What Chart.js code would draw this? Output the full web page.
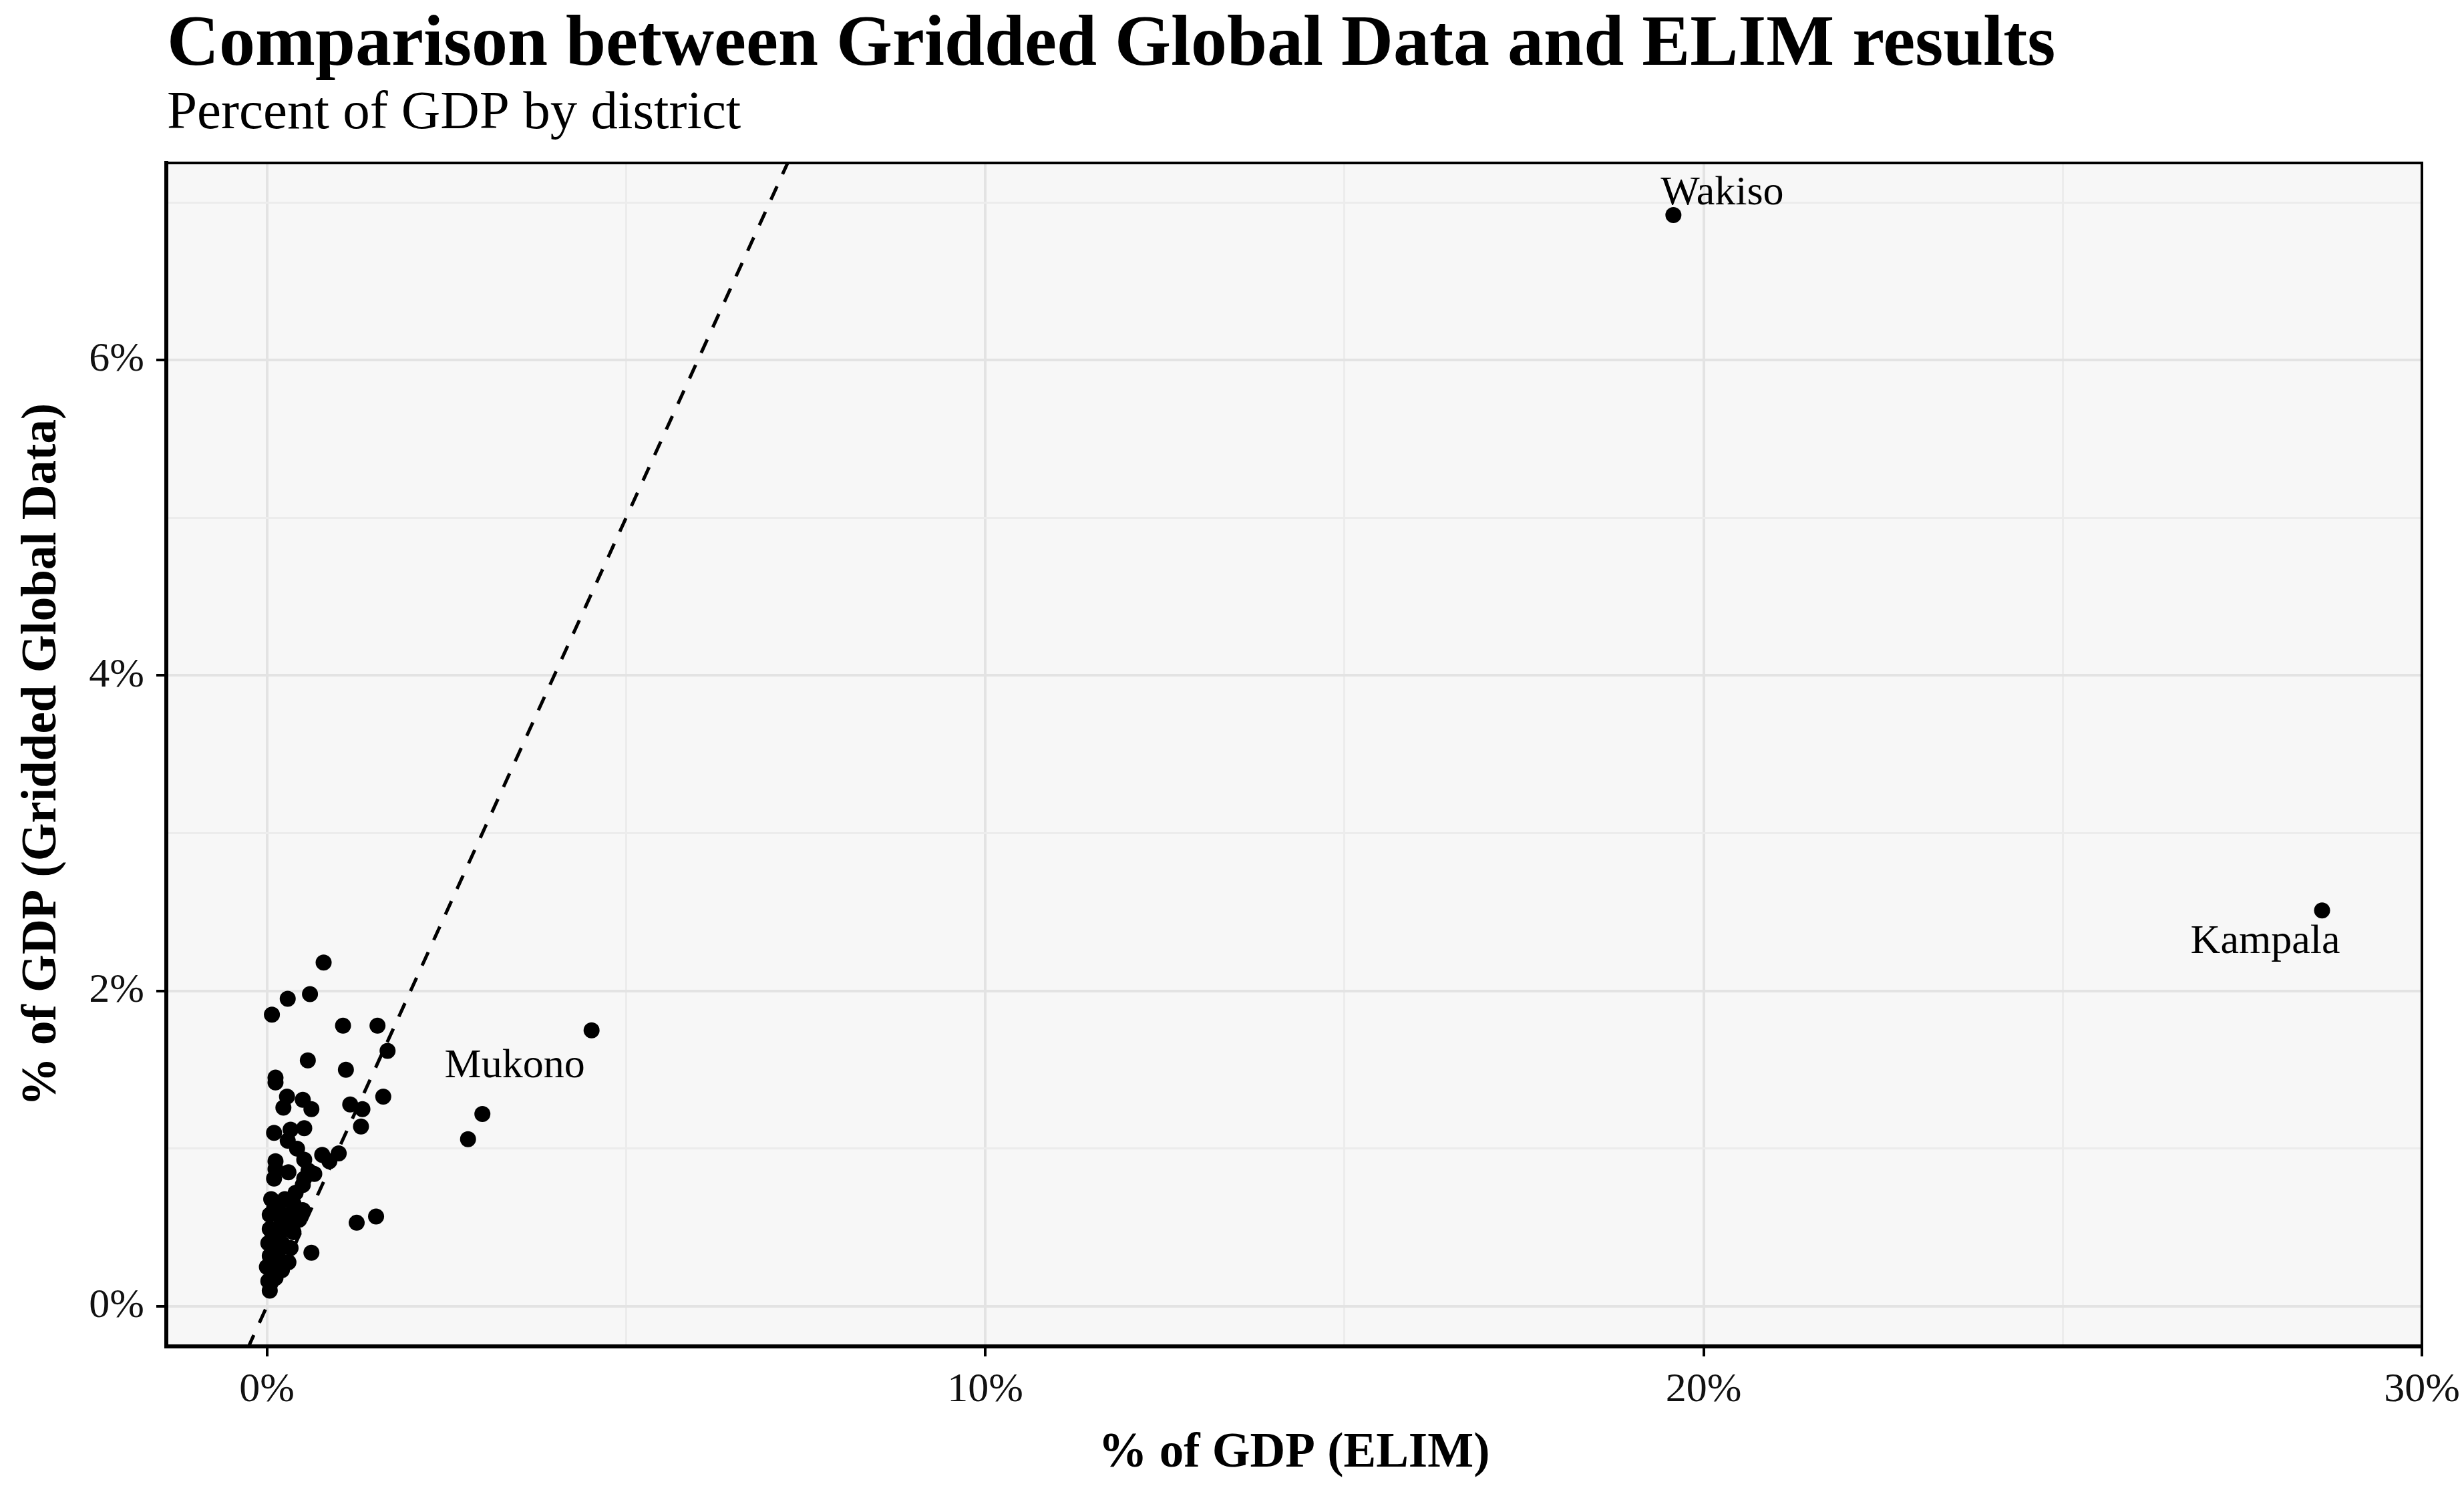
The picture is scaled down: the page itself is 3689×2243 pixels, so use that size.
<!DOCTYPE html>
<html>
<head>
<meta charset="utf-8">
<script src="https://cdn.jsdelivr.net/npm/chart.js@4/dist/chart.umd.min.js"></script>
<style>
  html, body { margin: 0; padding: 0; background: #fff; overflow: hidden; }
  canvas { display: block; }
</style>
</head>
<body>
<canvas id="chart" width="3689" height="2243"></canvas>
<script>
// ---- data (percent of GDP per district) ----
// first three are the labelled districts
const labelledDistricts = ['Wakiso', 'Kampala', 'Mukono'];

const elimPct = [
  19.58, 28.61, 4.52,
  0.79, 0.60, 0.29, 0.07, 1.06, 1.54, 1.68, 0.57, 1.10, 0.12, 0.12,
  0.28, 0.50, 0.23, 0.62, 1.62, 1.16, 1.33, 1.31, 3.00, 2.80,
  0.10, 0.33, 0.52, 0.29, 0.42, 0.77, 1.00, 0.87, 0.52, 0.12,
  0.58, 0.66, 0.12, 0.50, 0.10, 0.52, 1.25, 1.52, 0.62,
  0.06, 0.25, 0.37, 0.50, 0.04, 0.17, 0.33, 0.04, 0.25, 0.37,
  0.02, 0.21, 0.33, 0.04, 0.17, 0.00, 0.21, 0.02, 0.12, 0.04,
  0.10, 0.20, 0.08, 0.28, 0.15, 0.30, 0.08, 0.45, 0.40, 0.30
];

const griddedPct = [
  6.92, 2.51, 1.75,
  2.18, 1.98, 1.95, 1.85, 1.78, 1.78, 1.62, 1.56, 1.50, 1.45, 1.42,
  1.33, 1.31, 1.26, 1.25, 1.33, 1.28, 1.25, 1.14, 1.22, 1.06,
  1.10, 1.12, 1.13, 1.05, 1.00, 0.96, 0.97, 0.92, 0.93, 0.92,
  0.86, 0.84, 0.87, 0.77, 0.81, 0.81, 0.53, 0.57, 0.34,
  0.68, 0.68, 0.65, 0.61, 0.58, 0.60, 0.56, 0.49, 0.49, 0.47,
  0.40, 0.40, 0.37, 0.32, 0.30, 0.25, 0.23, 0.16, 0.18, 0.10,
  0.62, 0.52, 0.44, 0.58, 0.35, 0.28, 0.22, 0.55, 0.72, 0.85
];

const xTicks = [0, 5, 10, 15, 20, 25, 30];
const yTicks = [0, 1, 2, 3, 4, 5, 6, 7];
const xMajor = [0, 10, 20, 30];
const yMajor = [0, 2, 4, 6];

// axis limits (ggplot-style 5% expansion)
const X_MIN = -1.40, X_MAX = 30.0;
const Y_MIN = -0.254, Y_MAX = 7.25;

// ---- styling ----
const SERIF = '"Palatino Linotype", "Book Antiqua", Palatino, "Liberation Serif", serif';
const W = 3689, H = 2243;
const AREA = { left: 249, top: 244, right: 3626, bottom: 2016 };

// label offsets from the point, in pixels (centre x, baseline y)
const labelOffsets = { Wakiso: [73, -16], Kampala: [-85, 64], Mukono: [-115, 70] };

const points = elimPct.map((x, i) => ({ x, y: griddedPct[i] }));
const identity = [{ x: X_MIN, y: X_MIN }, { x: Y_MAX, y: Y_MAX }];

const isMajorX = v => xMajor.includes(v);
const isMajorY = v => yMajor.includes(v);

const panelPlugin = {
  id: 'panel',
  beforeDraw(chart) {
    const { ctx, chartArea: a } = chart;
    ctx.save();
    ctx.fillStyle = '#f7f7f7';
    ctx.fillRect(a.left, a.top, a.right - a.left, a.bottom - a.top);
    ctx.restore();
  },
  afterDraw(chart) {
    const { ctx, chartArea: a } = chart;
    ctx.save();
    // top / right frame
    ctx.strokeStyle = '#000';
    ctx.lineWidth = 4;
    ctx.beginPath();
    ctx.moveTo(a.left, a.top);
    ctx.lineTo(a.right, a.top);
    ctx.lineTo(a.right, a.bottom);
    ctx.stroke();

    // point labels
    const meta = chart.getDatasetMeta(0);
    ctx.fillStyle = '#000';
    ctx.font = '62px ' + SERIF;
    ctx.textAlign = 'center';
    ctx.textBaseline = 'alphabetic';
    labelledDistricts.forEach((name, i) => {
      const el = meta.data[i];
      const off = labelOffsets[name];
      ctx.fillText(name, el.x + off[0], el.y + off[1]);
    });

    // title + subtitle
    ctx.textAlign = 'left';
    ctx.font = 'bold 108px ' + SERIF;
    ctx.fillText('Comparison between Gridded Global Data and ELIM results', 250, 97);
    ctx.font = '81px ' + SERIF;
    ctx.fillText('Percent of GDP by district', 250, 192);
    ctx.restore();
  }
};

new Chart(document.getElementById('chart'), {
  type: 'scatter',
  data: {
    datasets: [
      {
        data: points,
        backgroundColor: '#000',
        borderWidth: 0,
        pointRadius: 12,
        pointHoverRadius: 12,
      },
      {
        type: 'line',
        data: identity,
        borderColor: '#000',
        borderWidth: 5,
        borderDash: [22, 20],
        pointRadius: 0,
        fill: false,
        clip: 0,
      },
    ],
  },
  options: {
    responsive: false,
    animation: false,
    devicePixelRatio: 1,
    layout: { padding: { top: AREA.top, right: W - AREA.right, bottom: 0, left: 0 } },
    plugins: {
      legend: { display: false },
      tooltip: { enabled: false },
    },
    scales: {
      x: {
        type: 'linear',
        min: X_MIN,
        max: X_MAX,
        afterBuildTicks: s => { s.ticks = xTicks.map(v => ({ value: v })); },
        afterFit: s => {
          s.height = H - AREA.bottom;
          s.paddingLeft = 0;
          s.paddingRight = 0;
        },
        ticks: {
          autoSkip: false,
          maxRotation: 0,
          padding: 14,
          color: '#111',
          font: { family: SERIF, size: 62 },
          callback: v => isMajorX(v) ? v + '%' : '',
        },
        grid: {
          color: c => isMajorX(c.tick.value) ? '#e3e3e3' : '#ececec',
          lineWidth: c => isMajorX(c.tick.value) ? 4 : 3,
          tickLength: 15,
          tickWidth: 4,
          tickColor: c => isMajorX(c.tick.value) ? '#000' : 'rgba(0,0,0,0)',
        },
        border: { color: '#000', width: 6 },
        title: {
          display: true,
          text: '% of GDP (ELIM)',
          color: '#000',
          font: { family: SERIF, size: 73, weight: 'bold' },
          padding: { top: 0, bottom: 22 },
        },
      },
      y: {
        type: 'linear',
        min: Y_MIN,
        max: Y_MAX,
        afterBuildTicks: s => { s.ticks = yTicks.map(v => ({ value: v })); },
        afterFit: s => {
          s.width = AREA.left;
          s.paddingTop = 0;
          s.paddingBottom = 0;
        },
        ticks: {
          autoSkip: false,
          padding: 18,
          color: '#111',
          font: { family: SERIF, size: 62 },
          callback: v => isMajorY(v) ? v + '%' : '',
        },
        grid: {
          color: c => isMajorY(c.tick.value) ? '#e3e3e3' : '#ececec',
          lineWidth: c => isMajorY(c.tick.value) ? 4 : 3,
          tickLength: 15,
          tickWidth: 4,
          tickColor: c => isMajorY(c.tick.value) ? '#000' : 'rgba(0,0,0,0)',
        },
        border: { color: '#000', width: 6 },
        title: {
          display: true,
          text: '% of GDP (Gridded Global Data)',
          color: '#000',
          font: { family: SERIF, size: 73, weight: 'bold' },
          padding: { top: 20, bottom: 0 },
        },
      },
    },
  },
  plugins: [panelPlugin],
});
</script>
</body>
</html>
